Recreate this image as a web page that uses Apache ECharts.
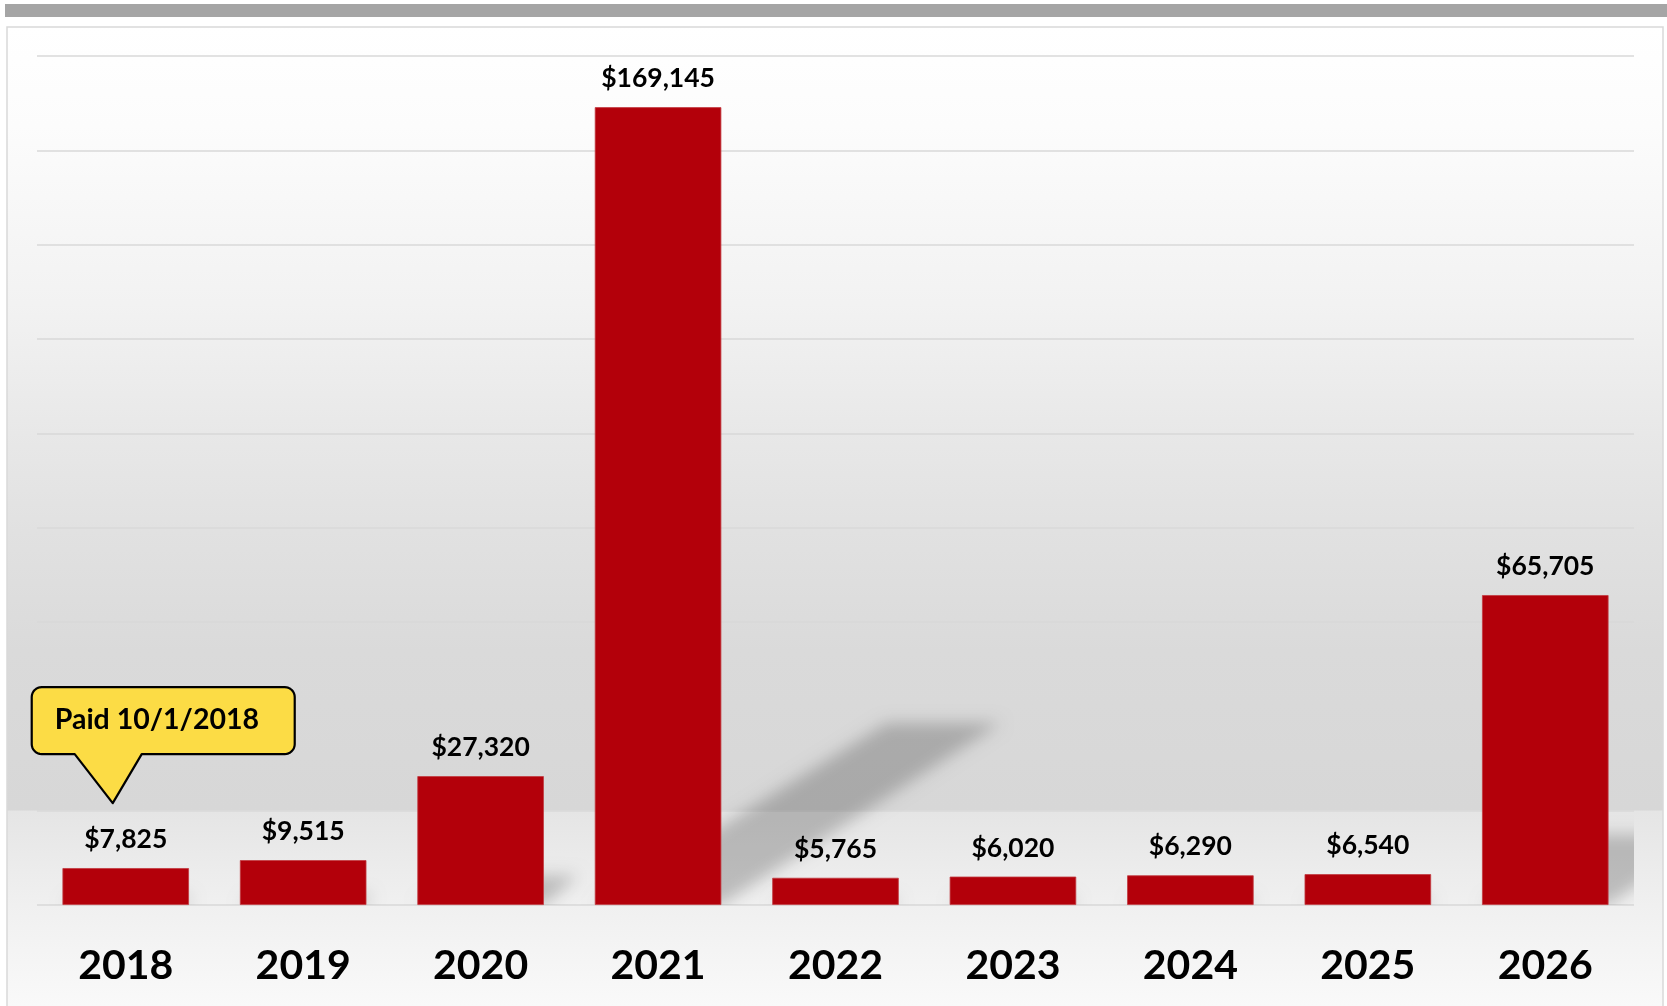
<!DOCTYPE html>
<html>
<head>
<meta charset="utf-8">
<title>Annual payments 2018–2026</title>
<script src="https://cdn.jsdelivr.net/npm/echarts@6/dist/echarts.min.js"></script>
<style>
  html, body { margin: 0; padding: 0; background: #ffffff; }
  #chart { width: 1667px; height: 1006px; }
</style>
</head>
<body>
<div id="chart"></div>
<script>
// Payment schedule by year
const years = ['2018', '2019', '2020', '2021', '2022', '2023', '2024', '2025', '2026'];
const payments = [7825, 9515, 27320, 169145, 5765, 6020, 6290, 6540, 65705];

// Value axis range (hidden labels, gridlines only)
const axisMin = 0;
const axisMax = 180000;
const axisStep = 20000;

// Note attached to the first payment
const calloutYear = '2018';
const calloutText = 'Paid 10/1/2018';

const FONT = 'Lato, "Open Sans", "Noto Sans", sans-serif';
const BAR_RATIO = 0.713;
const BAR_COLOR = '#b3000a';

function money(v) {
  return '$' + v.toLocaleString('en-US');
}

// Perspective drop shadow cast up and to the right of each bar.
// The shape itself is drawn off-canvas; only its blurred shadow lands in the plot.
function renderShadow(params, api) {
  const i = api.value(0);
  const v = api.value(1);
  const base = api.coord([i, 0]);
  const top = api.coord([i, v]);
  const bw = api.size([1, 0])[0] * BAR_RATIO;
  const h = base[1] - top[1];
  const x0 = base[0] - bw / 2;
  const dx = h * 0.366;
  const dy = h * 0.228;
  const OFF = 4000;
  const pts = [
    [x0 + OFF, base[1]],
    [x0 + bw + OFF, base[1]],
    [x0 + dx + bw * 0.9 + OFF, base[1] - dy],
    [x0 + dx + OFF, base[1] - dy]
  ];
  return {
    type: 'polygon',
    silent: true,
    shape: { points: pts },
    style: {
      fill: '#000',
      shadowColor: 'rgba(0,0,0,0.21)',
      shadowBlur: 16,
      shadowOffsetX: -OFF,
      shadowOffsetY: 0
    }
  };
}

// Outline of a rounded box with a downward pointer ending at (tipX, tipY)
function calloutOutline(L, T, W, H, r, pL, pR, tipX, tipY) {
  const pts = [];
  const arc = (cx, cy, a0, a1) => {
    const n = 8;
    for (let k = 0; k <= n; k++) {
      const a = (a0 + (a1 - a0) * k / n) * Math.PI / 180;
      pts.push([cx + r * Math.cos(a), cy + r * Math.sin(a)]);
    }
  };
  arc(L + W - r, T + r, -90, 0);
  arc(L + W - r, T + H - r, 0, 90);
  pts.push([pR, T + H], [tipX, tipY], [pL, T + H]);
  arc(L + r, T + H - r, 90, 180);
  arc(L + r, T + r, 180, 270);
  return pts;
}

const chart = echarts.init(document.getElementById('chart'), null, { renderer: 'canvas' });

const panelBackground = [
  {
    type: 'rect',
    z: -20,
    silent: true,
    shape: { x: 5, y: 4, width: 1662, height: 13 },
    style: { fill: '#a5a5a5' }
  },
  {
    type: 'rect',
    z: -20,
    silent: true,
    shape: { x: 7, y: 27, width: 1656, height: 990 },
    style: {
      stroke: '#d9d9d9',
      lineWidth: 1.5,
      fill: {
        type: 'linear', x: 0, y: 0, x2: 0, y2: 1,
        colorStops: [
          { offset: 0, color: '#ffffff' },
          { offset: 0.1, color: '#fcfcfc' },
          { offset: 0.28, color: '#f2f2f2' },
          { offset: 0.41, color: '#e8e8e8' },
          { offset: 0.51, color: '#e1e1e1' },
          { offset: 0.63, color: '#dadada' },
          { offset: 0.79, color: '#d7d7d7' },
          { offset: 0.792, color: '#e5e5e5' },
          { offset: 0.887, color: '#f0f0f0' },
          { offset: 1, color: '#fafafa' }
        ]
      }
    }
  }
];

chart.setOption({
  animation: false,
  backgroundColor: '#ffffff',
  grid: {
    left: 37,
    right: 33,
    top: 56,
    bottom: 101,
    containLabel: false,
    outerBoundsMode: 'none'
  },
  xAxis: {
    type: 'category',
    data: years,
    axisLine: { show: false },
    axisTick: { show: false },
    axisLabel: {
      margin: 40,
      color: '#000000',
      fontFamily: FONT,
      fontWeight: 'bold',
      fontSize: 41,
      lineHeight: 41
    }
  },
  yAxis: {
    type: 'value',
    min: axisMin,
    max: axisMax,
    interval: axisStep,
    axisLine: { show: false },
    axisTick: { show: false },
    axisLabel: { show: false },
    splitLine: { lineStyle: { color: '#d9d9d9', width: 1.5 } }
  },
  graphic: panelBackground,
  series: [
    {
      type: 'custom',
      name: 'shadow',
      z: 1,
      clip: true,
      silent: true,
      renderItem: renderShadow,
      encode: { x: 0, y: 1 },
      data: payments.map((v, i) => [i, v])
    },
    {
      type: 'bar',
      name: 'Payment',
      z: 3,
      data: payments,
      barWidth: (BAR_RATIO * 100).toFixed(1) + '%',
      itemStyle: { color: BAR_COLOR, borderColor: '#c23a40', borderWidth: 0.8 },
      label: {
        show: true,
        position: 'top',
        distance: 15,
        formatter: p => money(p.value),
        color: '#000000',
        fontFamily: FONT,
        fontWeight: 'bold',
        fontSize: 26.5
      }
    }
  ]
});

// Callout bubble pointing at the first bar's value
(function drawCallout() {
  const idx = years.indexOf(calloutYear);
  const anchor = chart.convertToPixel({ xAxisIndex: 0, yAxisIndex: 0 }, [idx, payments[idx]]);
  const tipX = anchor[0] - 13;
  const tipY = anchor[1] - 65;
  const L = tipX - 81, T = tipY - 116, W = 263, H = 67, r = 10;
  const pts = calloutOutline(L, T, W, H, r, tipX - 38, tipX + 29, tipX, tipY);
  chart.setOption({
    graphic: panelBackground.concat([
      {
        type: 'polygon',
        z: 100,
        silent: true,
        shape: { points: pts },
        style: { fill: '#fcdc45', stroke: '#000000', lineWidth: 2.2, lineJoin: 'round' }
      },
      {
        type: 'text',
        z: 101,
        silent: true,
        x: L + 23,
        y: T + H / 2 - 1,
        style: {
          text: calloutText,
          fill: '#000000',
          fontFamily: FONT,
          fontWeight: 'bold',
          fontSize: 28.5,
          align: 'left',
          verticalAlign: 'middle'
        }
      }
    ])
  });
})();
</script>
</body>
</html>
